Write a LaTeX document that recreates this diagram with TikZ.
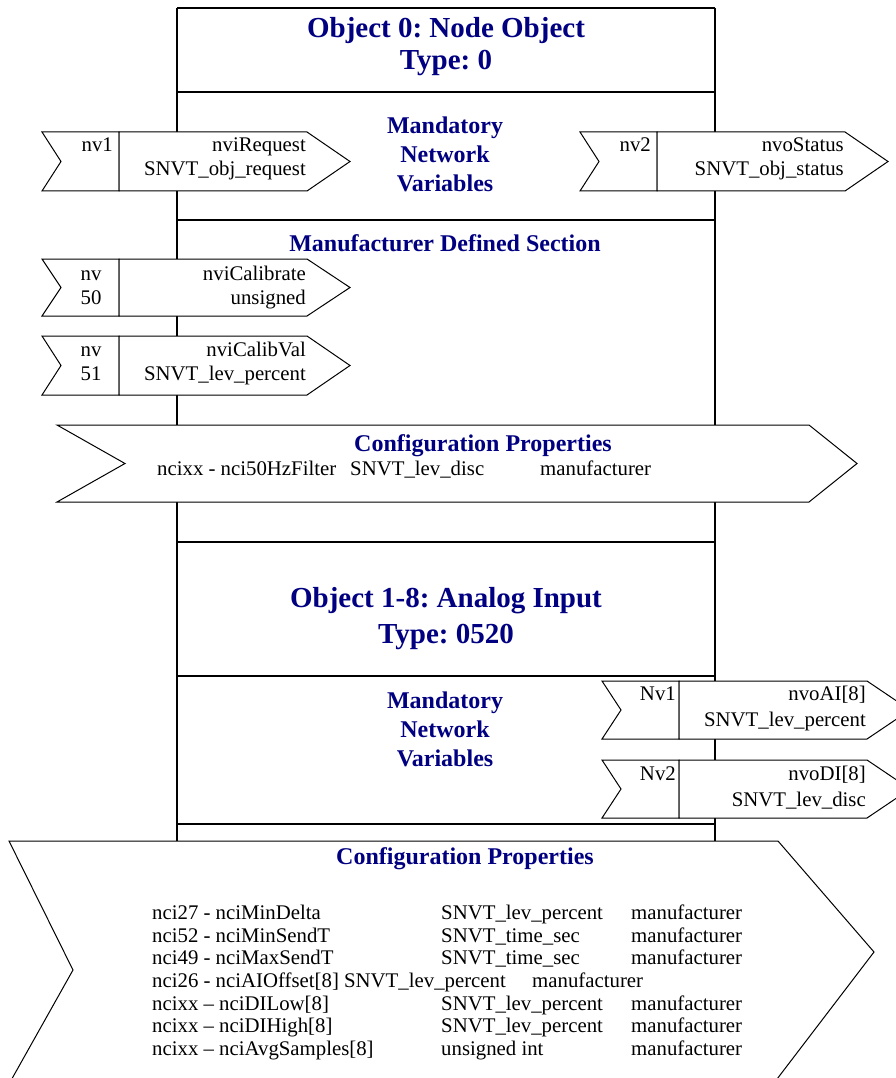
\documentclass[tikz,border=0pt]{standalone}
\usepackage{fontspec}
\setmainfont{Liberation Serif}
\frenchspacing
\definecolor{navy}{HTML}{000080}
\newcommand{\nvflag}[4]{%
  \pgfmathsetmacro\nvmid{(#2+#3)/2}%
  \draw[shp] (#1,#2) -- ({#1+77},#2) -- ({#1+77},#3) -- (#1,#3) -- ({#1+19},\nvmid) -- cycle;
  \draw[shp] ({#1+77},#2) -- ({#1+265},#2) -- ({#1+308},\nvmid) -- ({#1+265},#3) -- ({#1+77},#3) -- cycle;
  \coordinate (#4) at ({#1+77},\nvmid);
}
\begin{document}
\begin{tikzpicture}[x=1pt,y=-1pt,line join=miter,
  ln/.style={line width=1.1pt},
  shp/.style={draw,line width=1pt,fill=white},
  txt/.style={inner sep=0pt,font=\fontsize{20.8}{24}\selectfont},
  ttl/.style={inner sep=0pt,font=\fontsize{29}{34}\selectfont\bfseries,text=navy},
  sub/.style={inner sep=0pt,font=\fontsize{24}{29}\selectfont\bfseries,text=navy}]
\useasboundingbox (0,0) rectangle (896,1078);
\clip (0,0) rectangle (896,1078);

% main column
\draw[ln] (177,8) -- (715,8);
\draw[ln] (177,8) -- (177,841);
\draw[ln] (715,8) -- (715,841);
\foreach \yy in {92,220,542,676,824} \draw[ln] (177,\yy) -- (715,\yy);

% titles
\node[ttl,anchor=base] (t0a) at (446,38) {Object 0: Node Object};
\node[ttl,anchor=base] (t0b) at (446,70) {Type: 0};
\node[sub,anchor=base] (m0a) at (445,134) {Mandatory};
\node[sub,anchor=base] (m0b) at (445,163) {Network};
\node[sub,anchor=base] (m0c) at (445,192) {Variables};
\node[sub,anchor=base] (mds) at (445,251) {Manufacturer Defined Section};

% network variable arrows (object 0)
\nvflag{42}{132}{191}{a1}
\node[txt,anchor=base east] (nv1) at (113,152) {nv1};
\node[txt,anchor=base east] (nv1a) at (306,152) {nviRequest};
\node[txt,anchor=base east] (nv1b) at (306,176) {SNVT\_obj\_request};

\nvflag{580}{132}{191}{a2}
\node[txt,anchor=base east] (nv2) at (651,152) {nv2};
\node[txt,anchor=base east] (nv2a) at (844,152) {nvoStatus};
\node[txt,anchor=base east] (nv2b) at (844,176) {SNVT\_obj\_status};

\nvflag{42}{259}{316}{a50}
\node[txt,anchor=base] (nv50a) at (91,280) {nv};
\node[txt,anchor=base] (nv50b) at (91,304) {50};
\node[txt,anchor=base east] (nv50c) at (306,280) {nviCalibrate};
\node[txt,anchor=base east] (nv50d) at (306,304) {unsigned};

\nvflag{42}{336}{395}{a51}
\node[txt,anchor=base] (nv51a) at (91,356) {nv};
\node[txt,anchor=base] (nv51b) at (91,380) {51};
\node[txt,anchor=base east] (nv51c) at (306,356) {nviCalibVal};
\node[txt,anchor=base east] (nv51d) at (306,380) {SNVT\_lev\_percent};

% configuration properties (object 0)
\draw[shp] (57,425) -- (809,425) -- (857,463.5) -- (809,502) -- (57,502) -- (125,463.5) -- cycle;
\node[sub,anchor=base] (cp0) at (483,451) {Configuration Properties};
\node[txt,anchor=base west] (cp0a) at (157,475) {ncixx - nci50HzFilter};
\node[txt,anchor=base west] (cp0b) at (350,475) {SNVT\_lev\_disc};
\node[txt,anchor=base west] (cp0c) at (540,475) {manufacturer};

% object 1-8
\node[ttl,anchor=base] (t1a) at (446,607) {Object 1-8: Analog Input};
\node[ttl,anchor=base] (t1b) at (446,643) {Type: 0520};
\node[sub,anchor=base] (m1a) at (445,708) {Mandatory};
\node[sub,anchor=base] (m1b) at (445,737) {Network};
\node[sub,anchor=base] (m1c) at (445,766) {Variables};

\nvflag{602}{681}{739}{b1}
\node[txt,anchor=base east] (Nv1) at (676,700) {Nv1};
\node[txt,anchor=base east] (Nv1a) at (866,700) {nvoAI[8]};
\node[txt,anchor=base east] (Nv1b) at (866,726) {SNVT\_lev\_percent};

\nvflag{602}{760}{818}{b2}
\node[txt,anchor=base east] (Nv2) at (676,780) {Nv2};
\node[txt,anchor=base east] (Nv2a) at (866,780) {nvoDI[8]};
\node[txt,anchor=base east] (Nv2b) at (866,806) {SNVT\_lev\_disc};

% configuration properties (object 1-8)
\draw[shp] (9,841) -- (778,841) -- (874,952) -- (761,1100) -- (0,1100) -- (73,970) -- cycle;
\node[sub,anchor=base] (cp1) at (465,864) {Configuration Properties};
\foreach \yy/\ca/\cb/\cc [count=\i] in {
  919/nci27 - nciMinDelta/SNVT\_lev\_percent/manufacturer,
  942/nci52 - nciMinSendT/SNVT\_time\_sec/manufacturer,
  964/nci49 - nciMaxSendT/SNVT\_time\_sec/manufacturer,
  1010/ncixx – nciDILow[8]/SNVT\_lev\_percent/manufacturer,
  1032/ncixx – nciDIHigh[8]/SNVT\_lev\_percent/manufacturer,
  1055/ncixx – nciAvgSamples[8]/unsigned int/manufacturer}{
  \node[txt,anchor=base west] (r\i a) at (152,\yy) {\ca};
  \node[txt,anchor=base west] (r\i b) at (441,\yy) {\cb};
  \node[txt,anchor=base west] (r\i c) at (631,\yy) {\cc};
}
\node[txt,anchor=base west] (r4a) at (152,987) {nci26 - nciAIOffset[8] SNVT\_lev\_percent};
\node[txt,anchor=base west] (r4c) at (532,987) {manufacturer};
\end{tikzpicture}
\end{document}
